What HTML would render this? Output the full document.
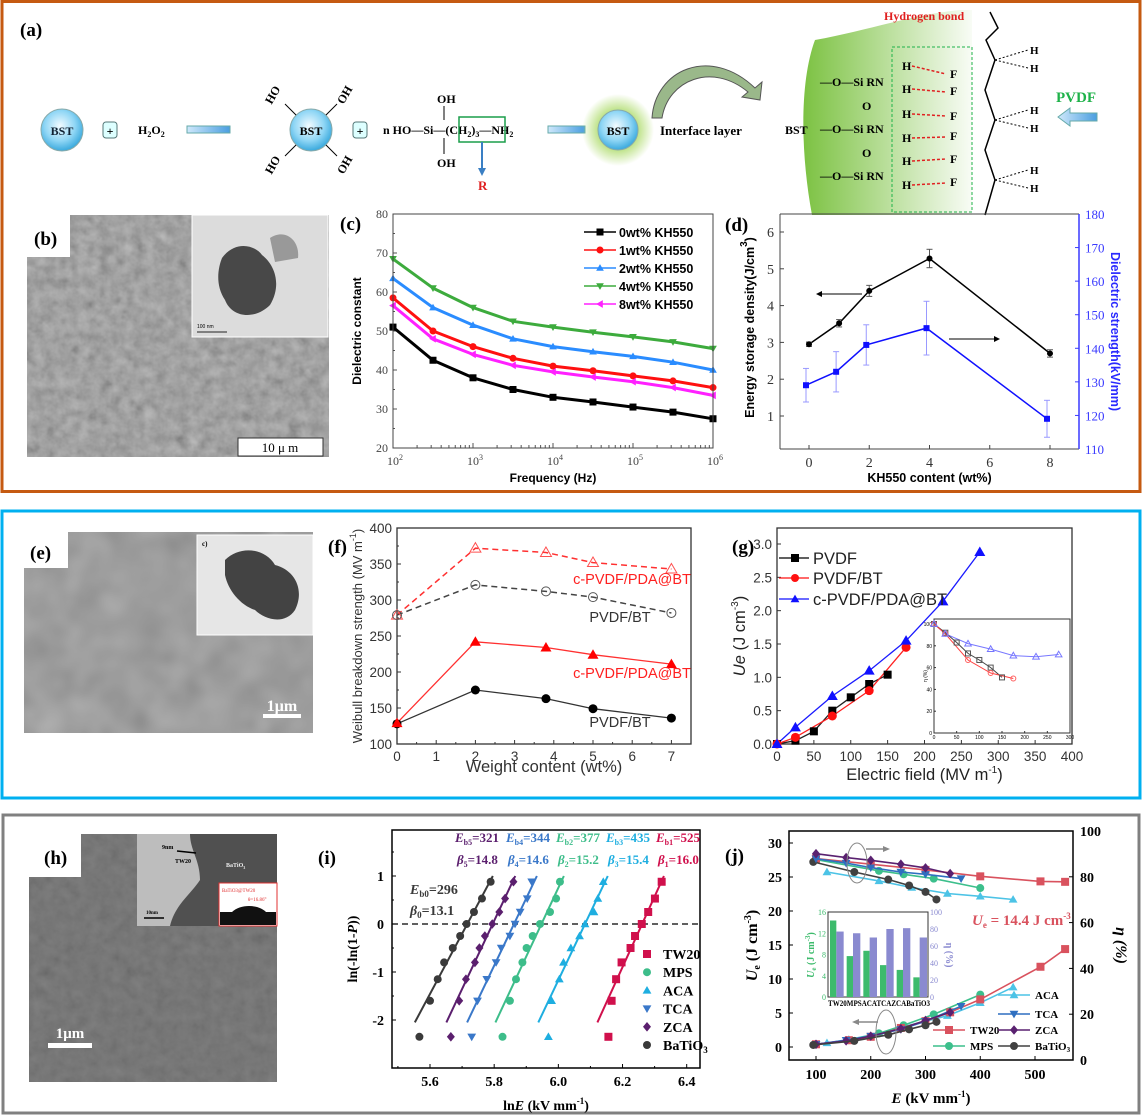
<!DOCTYPE html>
<html><head><meta charset="utf-8">
<style>
html,body{margin:0;padding:0;background:#fff;}
svg{display:block;}
.s{font-family:"Liberation Sans",sans-serif;}
.r{font-family:"Liberation Serif",serif;}
</style></head>
<body>
<svg id="fig" width="1144" height="1117" viewBox="0 0 1144 1117" xmlns="http://www.w3.org/2000/svg">
<defs>
<filter id="noise" x="0" y="0" width="100%" height="100%"><feTurbulence type="fractalNoise" baseFrequency="0.09" numOctaves="3" seed="3"/><feColorMatrix type="matrix" values="0.33 0.33 0.33 0 0 0.33 0.33 0.33 0 0 0.33 0.33 0.33 0 0 0 0 0 0 1"/></filter>
<filter id="noise2" x="0" y="0" width="100%" height="100%"><feTurbulence type="fractalNoise" baseFrequency="0.03" numOctaves="2" seed="7"/><feColorMatrix type="matrix" values="0.33 0.33 0.33 0 0 0.33 0.33 0.33 0 0 0.33 0.33 0.33 0 0 0 0 0 0 1"/></filter>
<radialGradient id="bst" cx="45%" cy="40%" r="60%"><stop offset="0" stop-color="#f2fbff"/><stop offset="0.6" stop-color="#8fd6f5"/><stop offset="1" stop-color="#3aa9dd"/></radialGradient>
<radialGradient id="glow" cx="50%" cy="50%" r="50%"><stop offset="0.5" stop-color="#b6df7a"/><stop offset="1" stop-color="#b6df7a" stop-opacity="0"/></radialGradient>
<linearGradient id="grn" x1="0" x2="1" y1="0" y2="0"><stop offset="0" stop-color="#7cc242"/><stop offset="1" stop-color="#7cc242" stop-opacity="0.05"/></linearGradient>
<linearGradient id="blu" x1="0" x2="1"><stop offset="0" stop-color="#cfe8fb"/><stop offset="1" stop-color="#4a9ee0"/></linearGradient>
</defs>

<rect x="2" y="1.5" width="1138" height="490" fill="none" stroke="#c55a11" stroke-width="3"/>
<rect x="2" y="511" width="1138" height="287" fill="none" stroke="#00b0f0" stroke-width="3"/>
<rect x="3" y="815" width="1136" height="298" fill="none" stroke="#808080" stroke-width="3"/>

<g>
<text x="20" y="36" class="r" font-size="19" font-weight="bold">(a)</text>
<circle cx="62" cy="130" r="21" fill="url(#bst)" stroke="#8aa"/>
<text x="62" y="135" text-anchor="middle" class="r" font-size="12" font-weight="bold" fill="#123">BST</text>
<rect x="103" y="122" width="14" height="16" rx="3" fill="#dff" stroke="#577"/>
<text x="110" y="135" text-anchor="middle" font-size="12" font-weight="bold">+</text>
<text x="138" y="134" class="r" font-size="12" font-weight="bold">H<tspan font-size="8" dy="3">2</tspan><tspan dy="-3">O</tspan><tspan font-size="8" dy="3">2</tspan></text>
<rect x="187" y="126" width="43" height="7" fill="url(#blu)" stroke="#6aa"/>
<circle cx="311" cy="130" r="21" fill="url(#bst)" stroke="#8aa"/>
<text x="311" y="135" text-anchor="middle" class="r" font-size="12" font-weight="bold">BST</text>
<g class="r" font-size="12" font-weight="bold" stroke="#000">
<line x1="296" y1="115" x2="285" y2="104"/><line x1="326" y1="115" x2="337" y2="104"/><line x1="296" y1="145" x2="285" y2="156"/><line x1="326" y1="145" x2="337" y2="156"/>
</g>
<g class="r" font-size="12" font-weight="bold">
<text x="264" y="100" transform="rotate(-60 272 96)">HO</text><text x="336" y="100" transform="rotate(-60 344 96)">OH</text>
<text x="264" y="170" transform="rotate(-60 272 166)">HO</text><text x="336" y="170" transform="rotate(-60 344 166)">OH</text>
</g>
<rect x="353" y="122" width="14" height="16" rx="3" fill="#dff" stroke="#577"/>
<text x="360" y="135" text-anchor="middle" font-size="12" font-weight="bold">+</text>
<text x="383" y="134" class="r" font-size="12" font-weight="bold">n HO—Si—(CH<tspan font-size="8" dy="3">2</tspan><tspan dy="-3">)</tspan><tspan font-size="8" dy="3">3</tspan><tspan dy="-3">—NH</tspan><tspan font-size="8" dy="3">2</tspan></text>
<text x="437" y="103" class="r" font-size="12" font-weight="bold">OH</text>
<text x="437" y="167" class="r" font-size="12" font-weight="bold">OH</text>
<line x1="444" y1="106" x2="444" y2="120" stroke="#000"/><line x1="444" y1="138" x2="444" y2="154" stroke="#000"/>
<rect x="459" y="117" width="46" height="25" fill="none" stroke="#1a9e4a" stroke-width="1.5"/>
<line x1="482" y1="142" x2="482" y2="170" stroke="#3a7fc4" stroke-width="2"/>
<polygon points="478,168 486,168 482,176" fill="#3a7fc4"/>
<text x="478" y="190" class="r" font-size="13" font-weight="bold" fill="#e02020">R</text>
<rect x="548" y="126" width="37" height="7" fill="url(#blu)" stroke="#6aa"/>
<circle cx="618" cy="130" r="36" fill="url(#glow)"/>
<circle cx="618" cy="130" r="20" fill="url(#bst)" stroke="#8aa"/>
<text x="618" y="135" text-anchor="middle" class="r" font-size="12" font-weight="bold">BST</text>
<text x="660" y="135" class="r" font-size="13" font-weight="bold">Interface layer</text>
<path d="M652,118 C655,70 710,45 755,88 L762,82 L760,100 L742,97 L748,92 C712,62 668,80 662,118 Z" fill="#9ab88a" stroke="#555"/>
<path d="M815,40 C870,30 910,15 960,10 L972,10 L972,215 L812,215 C800,150 800,80 815,40 Z" fill="url(#grn)"/>
<text x="785" y="134" class="r" font-size="12" font-weight="bold">BST</text>
<g class="r" font-size="12" font-weight="bold">
<text x="820" y="86">—O—Si RN</text><text x="820" y="133">—O—Si RN</text><text x="820" y="180">—O—Si RN</text>
<text x="862" y="110">O</text><text x="862" y="157">O</text>
<text x="902" y="70">H</text><text x="902" y="93">H</text><text x="902" y="118">H</text><text x="902" y="142">H</text><text x="902" y="165">H</text><text x="902" y="189">H</text>
<text x="950" y="78">F</text><text x="950" y="95">F</text><text x="950" y="120">F</text><text x="950" y="140">F</text><text x="950" y="163">F</text><text x="950" y="186">F</text>
</g>
<g stroke="#e02020" stroke-dasharray="3,2" stroke-width="1.5">
<line x1="912" y1="66" x2="946" y2="74"/><line x1="912" y1="89" x2="946" y2="92"/><line x1="912" y1="114" x2="946" y2="116"/><line x1="912" y1="138" x2="946" y2="137"/><line x1="912" y1="161" x2="946" y2="159"/><line x1="912" y1="185" x2="946" y2="183"/>
</g>
<rect x="892" y="47" width="80" height="165" fill="none" stroke="#1fb24a" stroke-dasharray="3,2"/>
<text x="884" y="20" class="r" font-size="12" font-weight="bold" fill="#e02020">Hydrogen bond</text>
<path d="M990,12 L998,28 L986,40 L995,60 L985,90 L995,120 L985,150 L995,180 L985,215" fill="none" stroke="#000" stroke-width="1.5"/>
<g stroke="#000" stroke-dasharray="2,2"><line x1="995" y1="60" x2="1028" y2="50"/><line x1="995" y1="60" x2="1028" y2="68"/><line x1="995" y1="120" x2="1028" y2="110"/><line x1="995" y1="120" x2="1028" y2="128"/><line x1="995" y1="180" x2="1028" y2="170"/><line x1="995" y1="180" x2="1028" y2="188"/></g>
<g class="r" font-size="11" font-weight="bold"><text x="1030" y="54">H</text><text x="1030" y="72">H</text><text x="1030" y="114">H</text><text x="1030" y="132">H</text><text x="1030" y="174">H</text><text x="1030" y="192">H</text></g>
<text x="1056" y="102" class="r" font-size="15" font-weight="bold" fill="#1fb24a">PVDF</text>
<path d="M1058,117 L1070,108 L1070,113 L1097,113 L1097,121 L1070,121 L1070,126 Z" fill="url(#blu)" stroke="#6aa"/>
</g>

<g>
<rect x="27" y="215" width="302" height="242" fill="#828282"/>
<rect x="27" y="215" width="302" height="242" fill="#fff" filter="url(#noise)" opacity="0.55"/>
<rect x="27" y="215" width="43" height="42" fill="#fff"/>
<text x="34" y="245" class="r" font-size="19" font-weight="bold">(b)</text>
<rect x="192" y="215" width="136" height="122" fill="#dcdcdc" stroke="#fff"/>
<path d="M222,258 C235,240 255,245 262,255 C275,265 282,285 270,305 C255,320 232,318 225,300 C215,285 218,268 222,258 Z" fill="#2e2e2e" opacity="0.85"/>
<path d="M270,238 C285,228 300,240 298,258 L275,262 Z" fill="#999"/>
<line x1="197" y1="332" x2="227" y2="332" stroke="#222"/>
<text x="197" y="328" font-size="5" class="s">100 nm</text>
<rect x="238" y="438" width="85" height="18" fill="#fff" stroke="#333"/>
<text x="280" y="452" text-anchor="middle" class="r" font-size="13">10 μ m</text>
</g>

<g>
<rect x="24" y="532" width="289" height="201" fill="#8a8a8a"/>
<rect x="24" y="532" width="289" height="201" fill="#fff" filter="url(#noise2)" opacity="0.4"/>
<rect x="24" y="532" width="44" height="36" fill="#fff"/>
<text x="30" y="559" class="r" font-size="19" font-weight="bold">(e)</text>
<rect x="197" y="535" width="116" height="100" fill="#e6e6e6" stroke="#fff"/>
<path d="M225,560 C240,545 265,548 275,565 C295,570 305,590 295,610 C285,625 265,620 255,610 C240,605 228,590 225,575 Z" fill="#262626" opacity="0.85"/>
<text x="202" y="546" class="r" font-size="7" font-weight="bold">c)</text>
<rect x="263" y="714" width="38" height="4" fill="#fff"/>
<text x="282" y="711" text-anchor="middle" class="r" font-size="16" font-weight="bold" fill="#fff">1μm</text>
</g>

<g>
<rect x="29" y="834" width="248" height="248" fill="#666"/>
<rect x="29" y="834" width="248" height="248" fill="#fff" filter="url(#noise)" opacity="0.2"/>
<rect x="29" y="834" width="52" height="43" fill="#fff"/>
<text x="44" y="864" class="r" font-size="19" font-weight="bold">(h)</text>
<rect x="137" y="834" width="140" height="92" fill="#bdbdbd"/>
<path d="M190,834 L277,834 L277,926 L170,926 C175,905 190,895 200,880 C200,860 190,850 190,834 Z" fill="#505050"/>
<text x="226" y="867" class="r" font-size="6" font-weight="bold" fill="#eee">BaTiO<tspan font-size="4" dy="2">3</tspan></text>
<text x="162" y="849" class="r" font-size="6" font-weight="bold">9nm</text>
<line x1="177" y1="851" x2="196" y2="853" stroke="#000" stroke-width="1.5"/>
<text x="175" y="863" class="r" font-size="6" font-weight="bold">TW20</text>
<line x1="144" y1="918" x2="164" y2="918" stroke="#000" stroke-width="1.5"/>
<text x="146" y="914" class="r" font-size="5" font-weight="bold">10nm</text>
<rect x="219" y="883" width="58" height="43" fill="#fff" stroke="#e03030"/>
<rect x="220" y="912" width="56" height="13" fill="#111"/>
<path d="M232,912 C240,904 258,904 266,912 Z" fill="#111"/>
<text x="222" y="892" class="r" font-size="5" fill="#e03030">BaTiO3@TW20</text>
<text x="248" y="901" class="r" font-size="5" fill="#e03030">θ=16.86°</text>
<rect x="48" y="1043" width="44" height="5" fill="#fff"/>
<text x="70" y="1038" text-anchor="middle" class="r" font-size="15" font-weight="bold" fill="#fff">1μm</text>
</g>

<g id="charts"></g>
</svg>

<script>
// ---------- panel (c) data ----------
const cLogFreq = [2, 2.5, 3, 3.5, 4, 4.5, 5, 5.5, 6];
const cSeriesNames = ["0wt% KH550", "1wt% KH550", "2wt% KH550", "4wt% KH550", "8wt% KH550"];
const c0wt = [51, 42.5, 38, 35, 33, 31.8, 30.5, 29.2, 27.5];
const c1wt = [58.5, 50, 46, 43, 41, 39.8, 38.5, 37.2, 35.5];
const c2wt = [63.5, 56, 51.5, 48, 46, 44.7, 43.5, 42, 40];
const c4wt = [68.5, 61, 56, 52.5, 51, 49.7, 48.5, 47.2, 45.5];
const c8wt = [56.5, 48, 44, 41.2, 39.5, 38.2, 37, 35.5, 33.5];
const cYTicks = [20, 30, 40, 50, 60, 70, 80];
const cXTicks = [2, 3, 4, 5, 6];
// ---------- panel (d) data ----------
const dContent = [0, 1, 2, 4, 8];
const dEnergy = [2.95, 3.52, 4.4, 5.28, 2.7];
const dEnergyErr = [0.06, 0.1, 0.15, 0.25, 0.1];
const dStrength = [129, 133, 141, 146, 119];
const dStrengthErr = [5, 6, 6, 8, 5.5];
const dLeftTicks = [1, 2, 3, 4, 5, 6];
const dRightTicks = [110, 120, 130, 140, 150, 160, 170, 180];
const dXTicks = [0, 2, 4, 6, 8];
// ---------- panel (f) data ----------
const fWeight = [0, 2, 3.8, 5, 7];
const fPvdfBt = [128, 175, 163, 149, 136];
const fCpvdf = [129, 242, 234, 224, 211];
const fPvdfBtDash = [279, 321, 312, 304, 282];
const fCpvdfDash = [279, 372, 366, 352, 343];
const fYTicks = [100, 150, 200, 250, 300, 350, 400];
const fXTicks = [0, 1, 2, 3, 4, 5, 6, 7];
// ---------- panel (g) data ----------
const gPvdfE = [0, 25, 50, 75, 100, 125, 150];
const gPvdfU = [0, 0.05, 0.19, 0.5, 0.7, 0.9, 1.04];
const gPvdfBtE = [0, 25, 75, 125, 175];
const gPvdfBtU = [0, 0.1, 0.42, 0.8, 1.45];
const gCpvdfE = [0, 25, 75, 125, 175, 225, 275];
const gCpvdfU = [0, 0.25, 0.72, 1.1, 1.55, 2.14, 2.88];
const gPvdfEta = [100, 92, 83, 73, 67, 60, 51];
const gPvdfBtEta = [100, 91, 67, 55, 50];
const gCpvdfEta = [100, 91, 82, 77, 71, 70, 72];
const gYTicks = [0, 0.5, 1.0, 1.5, 2.0, 2.5, 3.0];
const gXTicks = [0, 50, 100, 150, 200, 250, 300, 350, 400];
// ---------- panel (i) data ----------
const iRank = [-2.35, -1.6, -1.15, -0.8, -0.5, -0.25, 0, 0.25, 0.53, 0.88];
const iBaTiO3 = [5.567, 5.600, 5.624, 5.644, 5.671, 5.694, 5.714, 5.737, 5.762, 5.789];
const iZCA = [5.665, 5.691, 5.712, 5.740, 5.754, 5.771, 5.794, 5.816, 5.834, 5.860];
const iTCA = [5.730, 5.748, 5.777, 5.806, 5.822, 5.849, 5.865, 5.881, 5.903, 5.917];
const iMPS = [5.826, 5.849, 5.868, 5.888, 5.901, 5.920, 5.943, 5.974, 5.993, 6.005];
const iACA = [5.969, 5.979, 6.003, 6.016, 6.039, 6.066, 6.083, 6.111, 6.123, 6.140];
const iTW20 = [6.156, 6.166, 6.180, 6.197, 6.225, 6.239, 6.260, 6.280, 6.301, 6.322];
const iYTicks = [-2, -1, 0, 1];
const iXTicks = [5.6, 5.8, 6.0, 6.2, 6.4];
// ---------- panel (j) data ----------
const jTW20E = [100, 160, 200, 255, 300, 345, 400, 510, 555];
const jTW20U = [0.4, 1, 1.5, 2.8, 3.8, 5.1, 7, 11.8, 14.4];
const jMPSE = [100, 160, 215, 260, 315, 400];
const jMPSU = [0.4, 1, 2, 3.2, 4.8, 7.7];
const jACAE = [120, 160, 215, 260, 340, 400, 460];
const jACAU = [0.6, 1.1, 2, 3, 4.6, 6.5, 8.8];
const jTCAE = [100, 155, 200, 255, 300, 365];
const jTCAU = [0.4, 1, 1.6, 2.6, 3.8, 6];
const jZCAE = [100, 155, 200, 255, 300, 345];
const jZCAU = [0.4, 0.9, 1.6, 2.7, 3.9, 5.1];
const jBTE = [95, 170, 232, 270, 300, 320];
const jBTU = [0.3, 0.9, 1.8, 2.6, 3.2, 3.7];
const jTW20EtaE = [100, 200, 300, 400, 510, 555];
const jTW20Eta = [88, 85.5, 83, 80.2, 78, 77.8];
const jZCAEta = [90.1, 88.4, 87.2, 85.5, 83.9, 81.4];
const jTCAEta = [87.9, 86, 84, 82.1, 81.1, 79.2];
const jMPSEtaE = [100, 215, 260, 315, 400];
const jMPSEta = [87.5, 82.6, 81.1, 79.2, 75.1];
const jACAEtaE = [120, 215, 275, 340, 400, 460];
const jACAEta = [82.1, 78.2, 75.3, 72.7, 71.5, 70.1];
const jBTEta = [86.5, 82.1, 78.8, 76.2, 73.4, 70.1];
const jBarCats = ["TW20", "MPS", "ACA", "TCA", "ZCA", "BaTiO3"];
const jBarUe = [14.4, 7.7, 8.7, 6, 5.1, 3.7];
const jBarEta = [77, 75, 70, 80, 81, 70];
const jLeftTicks = [0, 5, 10, 15, 20, 25, 30];
const jRightTicks = [0, 20, 40, 60, 80, 100];
const jXTicks = [100, 200, 300, 400, 500];

const NS = "http://www.w3.org/2000/svg";
const root = document.getElementById("charts");
function el(tag, attrs, parent, nm) {
  const e = document.createElementNS(NS, tag);
  for (const k in attrs) e.setAttribute(k, attrs[k]);
  
  
  (parent || root).appendChild(e);
  return e;
}
function txt(x, y, s, attrs, parent, nm) {
  const a = Object.assign({x: x, y: y}, attrs);
  const t = el("text", a, parent, nm);
  t.textContent = s;
  return t;
}
function lin(d0, d1, p0, p1) { return v => p0 + (v - d0) * (p1 - p0) / (d1 - d0); }
function marker(g, type, x, y, s, fill, stroke, nm) {
  let e;
  const h = s / 2;
  if (type === "sq") e = el("rect", {x: x - h, y: y - h, width: s, height: s, fill: fill, stroke: stroke}, g, nm);
  else if (type === "ci") e = el("circle", {cx: x, cy: y, r: h, fill: fill, stroke: stroke}, g, nm);
  else if (type === "up") e = el("polygon", {points: `${x},${y - h * 1.1} ${x - h * 1.1},${y + h * 0.8} ${x + h * 1.1},${y + h * 0.8}`, fill: fill, stroke: stroke}, g, nm);
  else if (type === "dn") e = el("polygon", {points: `${x},${y + h * 1.1} ${x - h * 1.1},${y - h * 0.8} ${x + h * 1.1},${y - h * 0.8}`, fill: fill, stroke: stroke}, g, nm);
  else if (type === "lt") e = el("polygon", {points: `${x - h * 1.1},${y} ${x + h * 0.8},${y - h * 1.1} ${x + h * 0.8},${y + h * 1.1}`, fill: fill, stroke: stroke}, g, nm);
  else if (type === "di") e = el("polygon", {points: `${x},${y - h * 1.2} ${x + h},${y} ${x},${y + h * 1.2} ${x - h},${y}`, fill: fill, stroke: stroke}, g, nm);
  return e;
}
function poly(g, xs, ys, X, Y, attrs, nm) {
  const pts = xs.map((v, i) => X(v).toFixed(1) + "," + Y(ys[i]).toFixed(1)).join(" ");
  return el("polyline", Object.assign({points: pts, fill: "none"}, attrs), g, nm);
}

// ================= Panel (c) =================
(function () {
  const g = el("g", {}, root, "panel-c-dielectric-chart");
  const L = 393, R = 713, T = 214, B = 448;
  const X = lin(2, 6, L, R), Y = lin(20, 80, B, T);
  txt(340, 230, "(c)", {class: "r", "font-size": 19, "font-weight": "bold"}, g, "panel-c-label");
  cYTicks.forEach(v => {
    txt(L - 5, Y(v) + 4, String(v), {class: "r", "font-size": 12, "text-anchor": "end", fill: "#444"}, g, "y-tick-label");
    el("line", {x1: L, x2: L + 4, y1: Y(v), y2: Y(v), stroke: "#555"}, g, "y-tick");
    if (v < 80) el("line", {x1: L, x2: L + 2, y1: Y(v + 5), y2: Y(v + 5), stroke: "#555"}, g, "y-minor-tick");
  });
  cXTicks.forEach(v => {
    const t = txt(X(v) - 6, B + 17, "10", {class: "r", "font-size": 12, fill: "#444"}, g, "x-tick-label");
    const sp = document.createElementNS(NS, "tspan");
    sp.setAttribute("dy", "-5"); sp.setAttribute("font-size", "8"); sp.textContent = String(v);
    t.appendChild(sp);
    el("line", {x1: X(v), x2: X(v), y1: B, y2: B - 5, stroke: "#555"}, g, "x-tick");
    if (v < 6) for (let k = 2; k <= 9; k++) el("line", {x1: X(v + Math.log10(k)), x2: X(v + Math.log10(k)), y1: B, y2: B - 3, stroke: "#555"}, g, "x-minor-tick");
  });
  const series = [c0wt, c1wt, c2wt, c4wt, c8wt];
  const colors = ["#000", "#ff1010", "#2a8cff", "#3dab3d", "#ff20ff"];
  const mk = ["sq", "ci", "up", "dn", "lt"];
  series.forEach((s, i) => {
    poly(g, cLogFreq, s, X, Y, {stroke: colors[i], "stroke-width": 3, "stroke-linejoin": "round"}, "series-line-" + i);
    cLogFreq.forEach((f, j) => marker(g, mk[i], X(f), Y(s[j]), 7, colors[i], "none", "series-point"));
    const ly = 232 + i * 18;
    el("line", {x1: 584, x2: 616, y1: ly, y2: ly, stroke: colors[i], "stroke-width": 1.5}, g, "legend-line");
    marker(g, mk[i], 600, ly, 7, colors[i], "none", "legend-marker");
    txt(619, ly + 5, cSeriesNames[i], {class: "s", "font-size": 12.5, "font-weight": "bold"}, g, "legend-entry");
  });
  el("rect", {x: L, y: T, width: R - L, height: B - T, fill: "none", stroke: "#444"}, g, "plot-frame");
  txt(0, 0, "Dielectric constant", {class: "s", "font-size": 12, "font-weight": "bold", "text-anchor": "middle", transform: `translate(361,${(T + B) / 2}) rotate(-90)`}, g, "y-axis-title");
  txt((L + R) / 2, 482, "Frequency (Hz)", {class: "s", "font-size": 12, "font-weight": "bold", "text-anchor": "middle"}, g, "x-axis-title");
})();

// ================= Panel (d) =================
(function () {
  const g = el("g", {}, root, "panel-d-energy-chart");
  const L = 780, R = 1079, T = 214, B = 449;
  const X = lin(0, 8, 809, 1050), Y = lin(1, 6, 416, 232), Y2 = lin(110, 180, B, T);
  txt(725, 231, "(d)", {class: "r", "font-size": 19, "font-weight": "bold"}, g, "panel-d-label");
  dLeftTicks.forEach(v => {
    txt(L - 6, Y(v) + 5, String(v), {class: "r", "font-size": 14, "text-anchor": "end", fill: "#333"}, g, "left-tick-label");
    el("line", {x1: L, x2: L + 4, y1: Y(v), y2: Y(v), stroke: "#444"}, g, "left-tick");
  });
  dRightTicks.forEach(v => {
    txt(R + 6, Y2(v) + 5, String(v), {class: "r", "font-size": 13, fill: "#3a3aff"}, g, "right-tick-label");
    el("line", {x1: R, x2: R - 4, y1: Y2(v), y2: Y2(v), stroke: "#3a3aff"}, g, "right-tick");
  });
  dXTicks.forEach(v => {
    txt(X(v), B + 18, String(v), {class: "r", "font-size": 14, "text-anchor": "middle", fill: "#333"}, g, "x-tick-label");
    el("line", {x1: X(v), x2: X(v), y1: B, y2: B - 4, stroke: "#444"}, g, "x-tick");
  });
  el("line", {x1: L, x2: R, y1: T, y2: T, stroke: "#444"}, g, "top-axis");
  el("line", {x1: L, x2: R, y1: B, y2: B, stroke: "#444"}, g, "x-axis");
  el("line", {x1: L, x2: L, y1: T, y2: B, stroke: "#444"}, g, "left-axis");
  el("line", {x1: R, x2: R, y1: T, y2: B, stroke: "#3a3aff", "stroke-width": 1.5}, g, "right-axis");
  poly(g, dContent, dEnergy, X, Y, {stroke: "#000", "stroke-width": 1.5}, "energy-line");
  const Xb = v => X(v) - 3;
  poly(g, dContent, dStrength, Xb, Y2, {stroke: "#1010ff", "stroke-width": 1.5}, "strength-line");
  dContent.forEach((c, i) => {
    el("line", {x1: X(c), x2: X(c), y1: Y(dEnergy[i] - dEnergyErr[i]), y2: Y(dEnergy[i] + dEnergyErr[i]), stroke: "#555"}, g, "energy-error-bar");
    el("line", {x1: X(c) - 3, x2: X(c) + 3, y1: Y(dEnergy[i] + dEnergyErr[i]), y2: Y(dEnergy[i] + dEnergyErr[i]), stroke: "#555"}, g, "energy-error-cap");
    el("line", {x1: X(c) - 3, x2: X(c) + 3, y1: Y(dEnergy[i] - dEnergyErr[i]), y2: Y(dEnergy[i] - dEnergyErr[i]), stroke: "#555"}, g, "energy-error-cap");
    marker(g, "ci", X(c), Y(dEnergy[i]), 6, "#000", "none", "energy-point");
    const xb = Xb(c);
    el("line", {x1: xb, x2: xb, y1: Y2(dStrength[i] - dStrengthErr[i]), y2: Y2(dStrength[i] + dStrengthErr[i]), stroke: "#9999ff"}, g, "strength-error-bar");
    el("line", {x1: xb - 3, x2: xb + 3, y1: Y2(dStrength[i] + dStrengthErr[i]), y2: Y2(dStrength[i] + dStrengthErr[i]), stroke: "#9999ff"}, g, "strength-error-cap");
    el("line", {x1: xb - 3, x2: xb + 3, y1: Y2(dStrength[i] - dStrengthErr[i]), y2: Y2(dStrength[i] - dStrengthErr[i]), stroke: "#9999ff"}, g, "strength-error-cap");
    marker(g, "sq", xb, Y2(dStrength[i]), 6, "#1010ff", "none", "strength-point");
  });
  el("line", {x1: 862, x2: 820, y1: 294, y2: 294, stroke: "#000"}, g, "left-arrow");
  el("polygon", {points: "816,294 822,291 822,297", fill: "#000"}, g, "left-arrow-head");
  el("line", {x1: 949, x2: 996, y1: 339, y2: 339, stroke: "#000"}, g, "right-arrow");
  el("polygon", {points: "1000,339 994,336 994,342", fill: "#000"}, g, "right-arrow-head");
  const lt = txt(0, 0, "", {class: "s", "font-size": 12.5, "font-weight": "bold", "text-anchor": "middle", transform: `translate(754,${(T + B) / 2 - 4}) rotate(-90)`}, g, "left-axis-title");
  lt.innerHTML = 'Energy storage density(J/cm<tspan font-size="10" dy="-7">3</tspan><tspan dy="7">)</tspan>';
  txt(0, 0, "Dielectric strength(kV/mm)", {class: "s", "font-size": 12.5, "font-weight": "bold", fill: "#2a2aff", "text-anchor": "middle", transform: `translate(1111,${(T + B) / 2}) rotate(90)`}, g, "right-axis-title");
  txt((L + R) / 2, 482, "KH550 content (wt%)", {class: "s", "font-size": 12.5, "font-weight": "bold", "text-anchor": "middle"}, g, "x-axis-title");
})();

// ================= Panel (f) =================
(function () {
  const g = el("g", {}, root, "panel-f-weibull-chart");
  const L = 397, R = 691, T = 528, B = 744;
  const X = lin(0, 7.5, L, R), Y = lin(100, 400, B, T);
  txt(328, 553, "(f)", {class: "r", "font-size": 19, "font-weight": "bold"}, g, "panel-f-label");
  fYTicks.forEach(v => {
    txt(L - 5, Y(v) + 5, String(v), {class: "s", "font-size": 13.5, "text-anchor": "end", fill: "#333"}, g, "y-tick-label");
    el("line", {x1: L, x2: L + 4, y1: Y(v), y2: Y(v), stroke: "#333"}, g, "y-tick");
    if (v < 400) el("line", {x1: L, x2: L + 2, y1: Y(v + 25), y2: Y(v + 25), stroke: "#333"}, g, "y-minor-tick");
  });
  fXTicks.forEach(v => {
    txt(X(v), B + 17, String(v), {class: "s", "font-size": 13.5, "text-anchor": "middle", fill: "#333"}, g, "x-tick-label");
    el("line", {x1: X(v), x2: X(v), y1: B, y2: B - 4, stroke: "#333"}, g, "x-tick");
    el("line", {x1: X(v + 0.5), x2: X(v + 0.5), y1: B, y2: B - 2, stroke: "#333"}, g, "x-minor-tick");
  });
  el("rect", {x: L, y: T, width: R - L, height: B - T, fill: "none", stroke: "#333", "stroke-width": 1.3}, g, "plot-frame");
  poly(g, fWeight, fCpvdfDash, X, Y, {stroke: "#ff3030", "stroke-width": 1.5, "stroke-dasharray": "6,4"}, "c-pvdf-dashed-line");
  poly(g, fWeight, fPvdfBtDash, X, Y, {stroke: "#444", "stroke-width": 1.5, "stroke-dasharray": "6,4"}, "pvdf-bt-dashed-line");
  poly(g, fWeight, fCpvdf, X, Y, {stroke: "#ff3030", "stroke-width": 1.3}, "c-pvdf-line");
  poly(g, fWeight, fPvdfBt, X, Y, {stroke: "#333", "stroke-width": 1.3}, "pvdf-bt-line");
  fWeight.forEach((w, i) => {
    marker(g, "up", X(w), Y(fCpvdfDash[i]), 10, "none", "#ff5050", "c-pvdf-dashed-point");
    marker(g, "ci", X(w), Y(fPvdfBtDash[i]), 9, "none", "#555", "pvdf-bt-dashed-point");
    marker(g, "ci", X(w), Y(fPvdfBt[i]), 9, "#000", "none", "pvdf-bt-point");
    marker(g, "up", X(w), Y(fCpvdf[i]), 10, "#ff0000", "none", "c-pvdf-point");
  });
  txt(632, 584, "c-PVDF/PDA@BT", {class: "s", "font-size": 14.5, fill: "#ff2020", "text-anchor": "middle"}, g, "c-pvdf-dashed-label");
  txt(620, 622, "PVDF/BT", {class: "s", "font-size": 14.5, fill: "#333", "text-anchor": "middle"}, g, "pvdf-bt-dashed-label");
  txt(632, 678, "c-PVDF/PDA@BT", {class: "s", "font-size": 14.5, fill: "#ff2020", "text-anchor": "middle"}, g, "c-pvdf-label");
  txt(620, 727, "PVDF/BT", {class: "s", "font-size": 14.5, fill: "#333", "text-anchor": "middle"}, g, "pvdf-bt-label");
  const yt = txt(0, 0, "", {class: "s", "font-size": 13, fill: "#333", "text-anchor": "middle", transform: `translate(362,${(T + B) / 2}) rotate(-90)`}, g, "y-axis-title");
  yt.innerHTML = 'Weibull breakdown strength (MV m<tspan font-size="9" dy="-6">-1</tspan><tspan dy="6">)</tspan>';
  txt((L + R) / 2, 772, "Weight content (wt%)", {class: "s", "font-size": 16.5, fill: "#333", "text-anchor": "middle"}, g, "x-axis-title");
})();

// ================= Panel (g) =================
(function () {
  const g = el("g", {}, root, "panel-g-energy-field-chart");
  const L = 777, R = 1072, T = 528, B = 744;
  const X = lin(0, 400, L, R), Y = lin(0, 3, B, 544);
  txt(732, 553, "(g)", {class: "r", "font-size": 19, "font-weight": "bold"}, g, "panel-g-label");
  gYTicks.forEach(v => {
    txt(L - 5, Y(v) + 5, v.toFixed(1), {class: "s", "font-size": 13.5, "text-anchor": "end", fill: "#333"}, g, "y-tick-label");
    el("line", {x1: L, x2: L + 4, y1: Y(v), y2: Y(v), stroke: "#333"}, g, "y-tick");
  });
  gXTicks.forEach(v => {
    txt(X(v), B + 17, String(v), {class: "s", "font-size": 13.5, "text-anchor": "middle", fill: "#333"}, g, "x-tick-label");
    el("line", {x1: X(v), x2: X(v), y1: B, y2: B - 4, stroke: "#333"}, g, "x-tick");
  });
  el("rect", {x: L, y: T, width: R - L, height: B - T, fill: "none", stroke: "#333", "stroke-width": 1.3}, g, "plot-frame");
  poly(g, gCpvdfE, gCpvdfU, X, Y, {stroke: "#1a1aff", "stroke-width": 1.3}, "c-pvdf-line");
  poly(g, gPvdfE, gPvdfU, X, Y, {stroke: "#222", "stroke-width": 1.3}, "pvdf-line");
  poly(g, gPvdfBtE, gPvdfBtU, X, Y, {stroke: "#ff2020", "stroke-width": 1.3}, "pvdf-bt-line");
  gPvdfE.forEach((e, i) => marker(g, "sq", X(e), Y(gPvdfU[i]), 8, "#000", "none", "pvdf-point"));
  gPvdfBtE.forEach((e, i) => marker(g, "ci", X(e), Y(gPvdfBtU[i]), 9, "#ff1010", "none", "pvdf-bt-point"));
  gCpvdfE.forEach((e, i) => marker(g, "up", X(e), Y(gCpvdfU[i]), 10, "#1010ff", "none", "c-pvdf-point"));
  const leg = [["PVDF", "#000", "sq", 558], ["PVDF/BT", "#ff1010", "ci", 578], ["c-PVDF/PDA@BT", "#1010ff", "up", 599]];
  leg.forEach(l => {
    el("line", {x1: 779, x2: 809, y1: l[3], y2: l[3], stroke: l[1], "stroke-width": 1.3}, g, "legend-line");
    marker(g, l[2], 795, l[3], 8, l[1], "none", "legend-marker");
    txt(813, l[3] + 6, l[0], {class: "s", "font-size": 16.5, fill: "#222"}, g, "legend-entry");
  });
  const IL = 934, IR = 1070, IT = 619, IB = 733;
  const IX = lin(0, 300, IL, IR), IY = lin(0, 100, IB, 624);
  el("rect", {x: IL, y: IT, width: IR - IL, height: IB - IT, fill: "#fff", stroke: "#333"}, g, "inset-frame");
  [0, 20, 40, 60, 80, 100].forEach(v => {
    txt(IL - 2, IY(v) + 2, String(v), {class: "s", "font-size": 5, "text-anchor": "end"}, g, "inset-y-tick-label");
    el("line", {x1: IL, x2: IL + 2, y1: IY(v), y2: IY(v), stroke: "#333"}, g, "inset-y-tick");
  });
  [0, 50, 100, 150, 200, 250, 300].forEach(v => {
    txt(IX(v), IB + 6, String(v), {class: "s", "font-size": 5, "text-anchor": "middle"}, g, "inset-x-tick-label");
    el("line", {x1: IX(v), x2: IX(v), y1: IB, y2: IB - 2, stroke: "#333"}, g, "inset-x-tick");
  });
  txt(0, 0, "η (%)", {class: "s", "font-size": 5, "text-anchor": "middle", transform: `translate(927,676) rotate(-90)`}, g, "inset-y-title");
  poly(g, gCpvdfE, gCpvdfEta, IX, IY, {stroke: "#7777ff", "stroke-width": 1}, "inset-c-pvdf-line");
  poly(g, gPvdfE, gPvdfEta, IX, IY, {stroke: "#444", "stroke-width": 1}, "inset-pvdf-line");
  poly(g, gPvdfBtE, gPvdfBtEta, IX, IY, {stroke: "#ff4040", "stroke-width": 1}, "inset-pvdf-bt-line");
  gPvdfE.forEach((e, i) => marker(g, "sq", IX(e), IY(gPvdfEta[i]), 5, "none", "#555", "inset-pvdf-point"));
  gPvdfBtE.forEach((e, i) => marker(g, "ci", IX(e), IY(gPvdfBtEta[i]), 5, "none", "#ff6060", "inset-pvdf-bt-point"));
  gCpvdfE.forEach((e, i) => marker(g, "up", IX(e), IY(gCpvdfEta[i]), 6, "none", "#7777ff", "inset-c-pvdf-point"));
  const yt = txt(0, 0, "", {class: "s", "font-size": 16.5, fill: "#222", "text-anchor": "middle", transform: `translate(745,${(T + B) / 2}) rotate(-90)`}, g, "y-axis-title");
  yt.innerHTML = '<tspan font-style="italic">Ue</tspan> (J cm<tspan font-size="10" dy="-7">-3</tspan><tspan dy="7">)</tspan>';
  const xt = txt((L + R) / 2, 780, "", {class: "s", "font-size": 16.5, fill: "#222", "text-anchor": "middle"}, g, "x-axis-title");
  xt.innerHTML = 'Electric field (MV m<tspan font-size="10" dy="-7">-1</tspan><tspan dy="7">)</tspan>';
})();

// ================= Panel (i) =================
(function () {
  const g = el("g", {}, root, "panel-i-weibull-plot");
  const L = 392, R = 700, T = 830, B = 1068;
  const X = lin(5.6, 6.4, 430, 686.7), Y = lin(0, 1, 924, 876);
  txt(318, 864, "(i)", {class: "r", "font-size": 19, "font-weight": "bold"}, g, "panel-i-label");
  iYTicks.forEach(v => {
    txt(L - 8, Y(v) + 5, String(v), {class: "r", "font-size": 14, "font-weight": "bold", "text-anchor": "end"}, g, "y-tick-label");
    el("line", {x1: L, x2: L + 4, y1: Y(v), y2: Y(v), stroke: "#000"}, g, "y-tick");
    el("line", {x1: L, x2: L + 2, y1: Y(v + 0.5), y2: Y(v + 0.5), stroke: "#000"}, g, "y-minor-tick");
  });
  iXTicks.forEach(v => {
    txt(X(v), B + 18, v.toFixed(1), {class: "r", "font-size": 14, "font-weight": "bold", "text-anchor": "middle"}, g, "x-tick-label");
    el("line", {x1: X(v), x2: X(v), y1: B, y2: B - 4, stroke: "#000"}, g, "x-tick");
    el("line", {x1: X(v - 0.1), x2: X(v - 0.1), y1: B, y2: B - 2, stroke: "#000"}, g, "x-minor-tick");
  });
  el("rect", {x: L, y: T, width: R - L, height: B - T, fill: "none", stroke: "#000", "stroke-width": 1.5}, g, "plot-frame");
  el("line", {x1: L, x2: R, y1: Y(0), y2: Y(0), stroke: "#000", "stroke-dasharray": "6,4", "stroke-width": 1.3}, g, "zero-dashed-line");
  const series = [["BaTiO3", iBaTiO3, "#3a3a3a", "ci"], ["ZCA", iZCA, "#5b1f6e", "di"], ["TCA", iTCA, "#3a78c9", "dn"], ["MPS", iMPS, "#3dbd8a", "ci"], ["ACA", iACA, "#1eaee0", "up"], ["TW20", iTW20, "#d0104c", "sq"]];
  series.forEach(s => {
    const xs = s[1].slice(1), ys = iRank.slice(1);
    const n = xs.length, mx = xs.reduce((a, b) => a + b) / n, my = ys.reduce((a, b) => a + b) / n;
    let sxy = 0, sxx = 0;
    xs.forEach((x, k) => { sxy += (x - mx) * (ys[k] - my); sxx += (x - mx) * (x - mx); });
    const b = sxy / sxx, a = my - b * mx;
    const xa = (-2.05 - a) / b, xb = (1.0 - a) / b;
    el("line", {x1: X(xa), y1: Y(-2.05), x2: X(xb), y2: Y(1.0), stroke: s[2], "stroke-width": 2}, g, "fit-line-" + s[0]);
    s[1].forEach((x, k) => marker(g, s[3], X(x), Y(iRank[k]), 8, s[2], "none", "point-" + s[0]));
  });
  const ann = [[455, "5", "321", "#5b1f6e", "5", "14.8"], [506, "4", "344", "#3a78c9", "4", "14.6"], [556, "2", "377", "#3dbd8a", "2", "15.2"], [606, "3", "435", "#1eaee0", "3", "15.4"], [656, "1", "525", "#d0104c", "1", "16.0"]];
  ann.forEach(a => {
    const t1 = txt(a[0], 842, "", {class: "r", "font-size": 13, "font-weight": "bold", fill: a[3]}, g, "breakdown-annotation");
    t1.innerHTML = `<tspan font-style="italic">E</tspan><tspan font-size="8" dy="3">b${a[1]}</tspan><tspan dy="-3">=${a[2]}</tspan>`;
    const t2 = txt(a[0] + 2, 864, "", {class: "r", "font-size": 13, "font-weight": "bold", fill: a[3]}, g, "beta-annotation");
    t2.innerHTML = `<tspan font-style="italic">β</tspan><tspan font-size="8" dy="3">${a[4]}</tspan><tspan dy="-3">=${a[5]}</tspan>`;
  });
  const t0 = txt(410, 894, "", {class: "r", "font-size": 14, "font-weight": "bold", fill: "#3a3a3a"}, g, "eb0-annotation");
  t0.innerHTML = '<tspan font-style="italic">E</tspan><tspan font-size="9" dy="3">b0</tspan><tspan dy="-3">=296</tspan>';
  const t3 = txt(410, 915, "", {class: "r", "font-size": 14, "font-weight": "bold", fill: "#3a3a3a"}, g, "beta0-annotation");
  t3.innerHTML = '<tspan font-style="italic">β</tspan><tspan font-size="9" dy="3">0</tspan><tspan dy="-3">=13.1</tspan>';
  const legOrder = [["TW20", "#d0104c", "sq"], ["MPS", "#3dbd8a", "ci"], ["ACA", "#1eaee0", "up"], ["TCA", "#3a78c9", "dn"], ["ZCA", "#5b1f6e", "di"], ["BaTiO3", "#3a3a3a", "ci"]];
  legOrder.forEach((l, k) => {
    const ly = 954 + k * 18.2;
    marker(g, l[2], 647, ly, 8, l[1], "none", "legend-marker");
    const t = txt(663, ly + 5, "", {class: "r", "font-size": 14, "font-weight": "bold"}, g, "legend-entry");
    t.innerHTML = l[0] === "BaTiO3" ? 'BaTiO<tspan font-size="9" dy="3">3</tspan>' : l[0];
  });
  const yt = txt(0, 0, "", {class: "r", "font-size": 14, "font-weight": "bold", "text-anchor": "middle", transform: `translate(357,${(T + B) / 2}) rotate(-90)`}, g, "y-axis-title");
  yt.innerHTML = 'ln(-ln(1-<tspan font-style="italic">P</tspan>))';
  const xt = txt(546, 1110, "", {class: "r", "font-size": 14, "font-weight": "bold", "text-anchor": "middle"}, g, "x-axis-title");
  xt.innerHTML = 'ln<tspan font-style="italic">E</tspan> (kV mm<tspan font-size="9" dy="-6">-1</tspan><tspan dy="6">)</tspan>';
})();

// ================= Panel (j) =================
(function () {
  const g = el("g", {}, root, "panel-j-energy-efficiency-chart");
  const L = 789, R = 1073, T = 831, B = 1060;
  const X = lin(100, 500, 816, 1035), Y = lin(0, 30, 1047, 843), Y2 = lin(0, 100, B, T);
  txt(725, 862, "(j)", {class: "r", "font-size": 19, "font-weight": "bold"}, g, "panel-j-label");
  jLeftTicks.forEach(v => {
    txt(L - 7, Y(v) + 5, String(v), {class: "r", "font-size": 14, "font-weight": "bold", "text-anchor": "end"}, g, "left-tick-label");
    el("line", {x1: L, x2: L + 4, y1: Y(v), y2: Y(v), stroke: "#000"}, g, "left-tick");
  });
  jRightTicks.forEach(v => {
    txt(R + 7, Y2(v) + 5, String(v), {class: "r", "font-size": 14, "font-weight": "bold"}, g, "right-tick-label");
    el("line", {x1: R, x2: R - 4, y1: Y2(v), y2: Y2(v), stroke: "#000"}, g, "right-tick");
  });
  jXTicks.forEach(v => {
    txt(X(v), B + 19, String(v), {class: "r", "font-size": 14, "font-weight": "bold", "text-anchor": "middle"}, g, "x-tick-label");
    el("line", {x1: X(v), x2: X(v), y1: B, y2: B - 4, stroke: "#000"}, g, "x-tick");
  });
  el("rect", {x: L, y: T, width: R - L, height: B - T, fill: "none", stroke: "#000", "stroke-width": 1.5}, g, "plot-frame");
  const C = {TW20: "#d9525e", MPS: "#3cbf8c", ACA: "#4cc3e6", TCA: "#2f6fc0", ZCA: "#5a2170", BT: "#404040"};
  const up = [["ACA", jACAE, jACAU, "up"], ["MPS", jMPSE, jMPSU, "ci"], ["TW20", jTW20E, jTW20U, "sq"], ["TCA", jTCAE, jTCAU, "dn"], ["ZCA", jZCAE, jZCAU, "di"], ["BT", jBTE, jBTU, "ci"]];
  up.forEach(s => {
    poly(g, s[1], s[2], X, Y, {stroke: C[s[0]], "stroke-width": 1.6}, "ue-line-" + s[0]);
    s[1].forEach((e, k) => marker(g, s[3], X(e), Y(s[2][k]), 8, C[s[0]], "none", "ue-point-" + s[0]));
  });
  const eta = [["ACA", jACAEtaE, jACAEta, "up"], ["MPS", jMPSEtaE, jMPSEta, "ci"], ["TW20", jTW20EtaE, jTW20Eta, "sq"], ["BT", jBTE, jBTEta, "ci"], ["TCA", jTCAE, jTCAEta, "dn"], ["ZCA", jZCAE, jZCAEta, "di"]];
  eta.forEach(s => {
    poly(g, s[1], s[2], X, Y2, {stroke: C[s[0]], "stroke-width": 1.6}, "eta-line-" + s[0]);
    s[1].forEach((e, k) => marker(g, s[3], X(e), Y2(s[2][k]), 8, C[s[0]], "none", "eta-point-" + s[0]));
  });
  el("ellipse", {cx: 857, cy: 863, rx: 10, ry: 20, fill: "none", stroke: "#888"}, g, "eta-group-ellipse");
  el("line", {x1: 866, x2: 884, y1: 849, y2: 849, stroke: "#888", "stroke-width": 1.5}, g, "eta-arrow");
  el("polygon", {points: "890,849 883,846 883,852", fill: "#888"}, g, "eta-arrow-head");
  el("ellipse", {cx: 886, cy: 1032, rx: 10, ry: 22, fill: "none", stroke: "#888"}, g, "ue-group-ellipse");
  el("line", {x1: 878, x2: 858, y1: 1022, y2: 1022, stroke: "#888", "stroke-width": 1.5}, g, "ue-arrow");
  el("polygon", {points: "852,1022 859,1019 859,1025", fill: "#888"}, g, "ue-arrow-head");
  const an = txt(972, 925, "", {class: "r", "font-size": 15, "font-weight": "bold", fill: "#d9525e"}, g, "ue-max-annotation");
  an.innerHTML = '<tspan font-style="italic">U</tspan><tspan font-size="9" dy="3">e</tspan><tspan dy="-3"> = 14.4 J cm</tspan><tspan font-size="9" dy="-6">-3</tspan>';
  const leg = [["ACA", "ACA", "up", 1008, 995], ["TCA", "TCA", "dn", 1008, 1014], ["TW20", "TW20", "sq", 943, 1030], ["ZCA", "ZCA", "di", 1008, 1030], ["MPS", "MPS", "ci", 943, 1046], ["BT", "BaTiO3", "ci", 1008, 1046]];
  leg.forEach(l => {
    el("line", {x1: l[3] - 10, x2: l[3] + 22, y1: l[4], y2: l[4], stroke: C[l[0]], "stroke-width": 1.6}, g, "legend-line");
    marker(g, l[2], l[3] + 6, l[4], 8, C[l[0]], "none", "legend-marker");
    const t = txt(l[3] + 27, l[4] + 4, "", {class: "r", "font-size": 11, "font-weight": "bold"}, g, "legend-entry");
    t.innerHTML = l[1] === "BaTiO3" ? 'BaTiO<tspan font-size="7" dy="2">3</tspan>' : l[1];
  });
  const IL = 828, IR = 928, IT = 912, IB = 997;
  const BY = lin(0, 16, IB, IT), BY2 = lin(0, 100, IB, IT);
  const bw = (IR - IL) / jBarCats.length;
  el("rect", {x: IL, y: IT, width: IR - IL, height: IB - IT, fill: "#fff", stroke: "#333"}, g, "inset-frame");
  jBarCats.forEach((c, k) => {
    el("rect", {x: IL + k * bw + 2, y: BY(jBarUe[k]), width: bw / 2 - 2, height: IB - BY(jBarUe[k]), fill: "#3dbb6c"}, g, "ue-bar-" + c);
    el("rect", {x: IL + k * bw + bw / 2, y: BY2(jBarEta[k]), width: bw / 2 - 1, height: IB - BY2(jBarEta[k]), fill: "#8a8ad0"}, g, "eta-bar-" + c);
  });
  txt(IL, IB + 9, "TW20MPSACATCAZCABaTiO3", {class: "r", "font-size": 8, "font-weight": "bold", textLength: 102, lengthAdjust: "spacingAndGlyphs"}, g, "inset-category-labels");
  [0, 4, 8, 12, 16].forEach(v => txt(IL - 2, BY(v) + 3, String(v), {class: "r", "font-size": 8, fill: "#3dbb6c", "text-anchor": "end"}, g, "inset-left-tick-label"));
  [0, 20, 40, 60, 80, 100].forEach(v => txt(IR + 2, BY2(v) + 3, String(v), {class: "r", "font-size": 8, fill: "#8a8ad0"}, g, "inset-right-tick-label"));
  const il = txt(0, 0, "", {class: "r", "font-size": 10, "font-weight": "bold", fill: "#3dbb6c", "text-anchor": "middle", transform: `translate(814,955) rotate(-90)`}, g, "inset-left-title");
  il.innerHTML = '<tspan font-style="italic">U</tspan><tspan font-size="7" dy="2">e</tspan><tspan dy="-2"> (J cm</tspan><tspan font-size="7" dy="-4">-3</tspan><tspan dy="4">)</tspan>';
  txt(0, 0, "η (%)", {class: "r", "font-size": 10, "font-weight": "bold", fill: "#8a8ad0", "text-anchor": "middle", transform: `translate(946,955) rotate(90)`}, g, "inset-right-title");
  const yt = txt(0, 0, "", {class: "r", "font-size": 16, "font-weight": "bold", "text-anchor": "middle", transform: `translate(757,${(T + B) / 2}) rotate(-90)`}, g, "left-axis-title");
  yt.innerHTML = '<tspan font-style="italic">U</tspan><tspan font-size="10" dy="3">e</tspan><tspan dy="-3"> (J cm</tspan><tspan font-size="10" dy="-6">-3</tspan><tspan dy="6">)</tspan>';
  txt(0, 0, "η (%)", {class: "r", "font-size": 16, "font-weight": "bold", "font-style": "italic", "text-anchor": "middle", transform: `translate(1116,${(T + B) / 2}) rotate(90)`}, g, "right-axis-title");
  const xt = txt(931, 1103, "", {class: "r", "font-size": 15, "font-weight": "bold", "text-anchor": "middle"}, g, "x-axis-title");
  xt.innerHTML = '<tspan font-style="italic">E</tspan> (kV mm<tspan font-size="9" dy="-6">-1</tspan><tspan dy="6">)</tspan>';
})();
</script>
</body></html>
